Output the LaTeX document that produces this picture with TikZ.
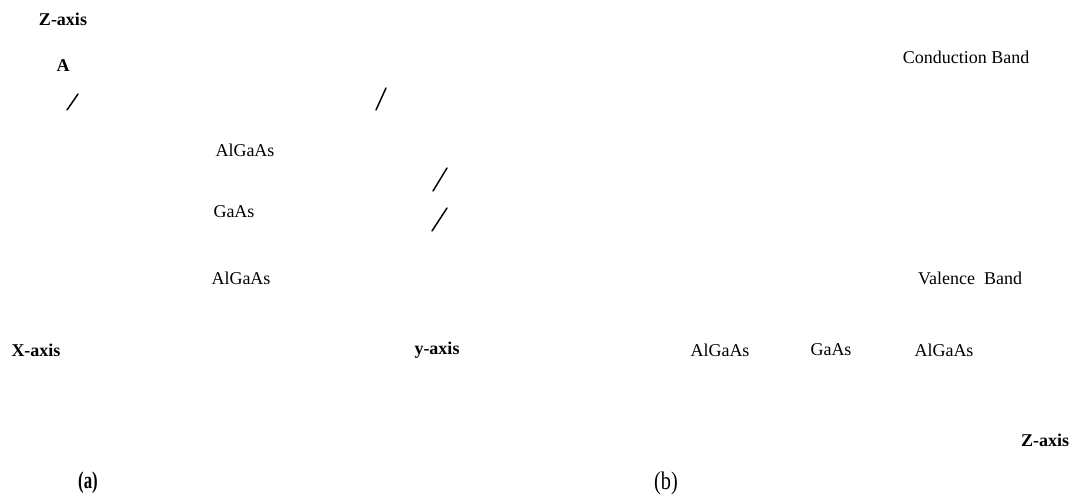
\documentclass[tikz,border=0pt]{standalone}
\usepackage{fontspec}
\setmainfont{Liberation Serif}
\begin{document}
\begin{tikzpicture}[x=0.75pt,y=-0.75pt,
  lbl/.style={inner sep=0pt,font=\fontsize{13.5}{16}\selectfont},
  axl/.style={inner sep=0pt,font=\fontsize{13.5}{16}\selectfont\bfseries},
  tick/.style={line width=1.1pt,line cap=round}]
\useasboundingbox (0,0) rectangle (1078,496);

% (a) layered structure: axes, point A and layer names
\node[axl] (zaxisa) at (63,19) {Z-axis};
\node[axl] (pointA) at (63,66) {A};
\node[lbl] (top)    at (245,150) {AlGaAs};
\node[lbl] (well)   at (234,212) {GaAs};
\node[lbl] (bottom) at (241,278) {AlGaAs};
\node[axl] (xaxis)  at (36,350) {X-axis};
\node[axl] (yaxis)  at (437,350) {y-axis};

% short oblique marks
\draw[tick] (67,110) -- (78,94);
\draw[tick] (376,110) -- (386,88);
\draw[tick] (433,191) -- (447,168);
\draw[tick] (432,231) -- (447,208);

% (b) band diagram labels
\node[lbl] (cband) at (966,57) {Conduction Band};
\node[lbl] (vband) at (970,278) {Valence\ \ Band};
\node[lbl] (b1) at (720,350) {AlGaAs};
\node[lbl] (b2) at (831,350) {GaAs};
\node[lbl] (b3) at (944,350) {AlGaAs};
\node[axl] (zaxisb) at (1045,440) {Z-axis};

% panel captions
\node[inner sep=0pt] (capa) at (88,483) {\scalebox{0.7}[1]{\fontsize{18}{20}\selectfont\bfseries (a)}};
\node[inner sep=0pt] (capb) at (666,483) {\scalebox{0.8}[1]{\fontsize{19}{21}\selectfont (b)}};
\end{tikzpicture}
\end{document}
